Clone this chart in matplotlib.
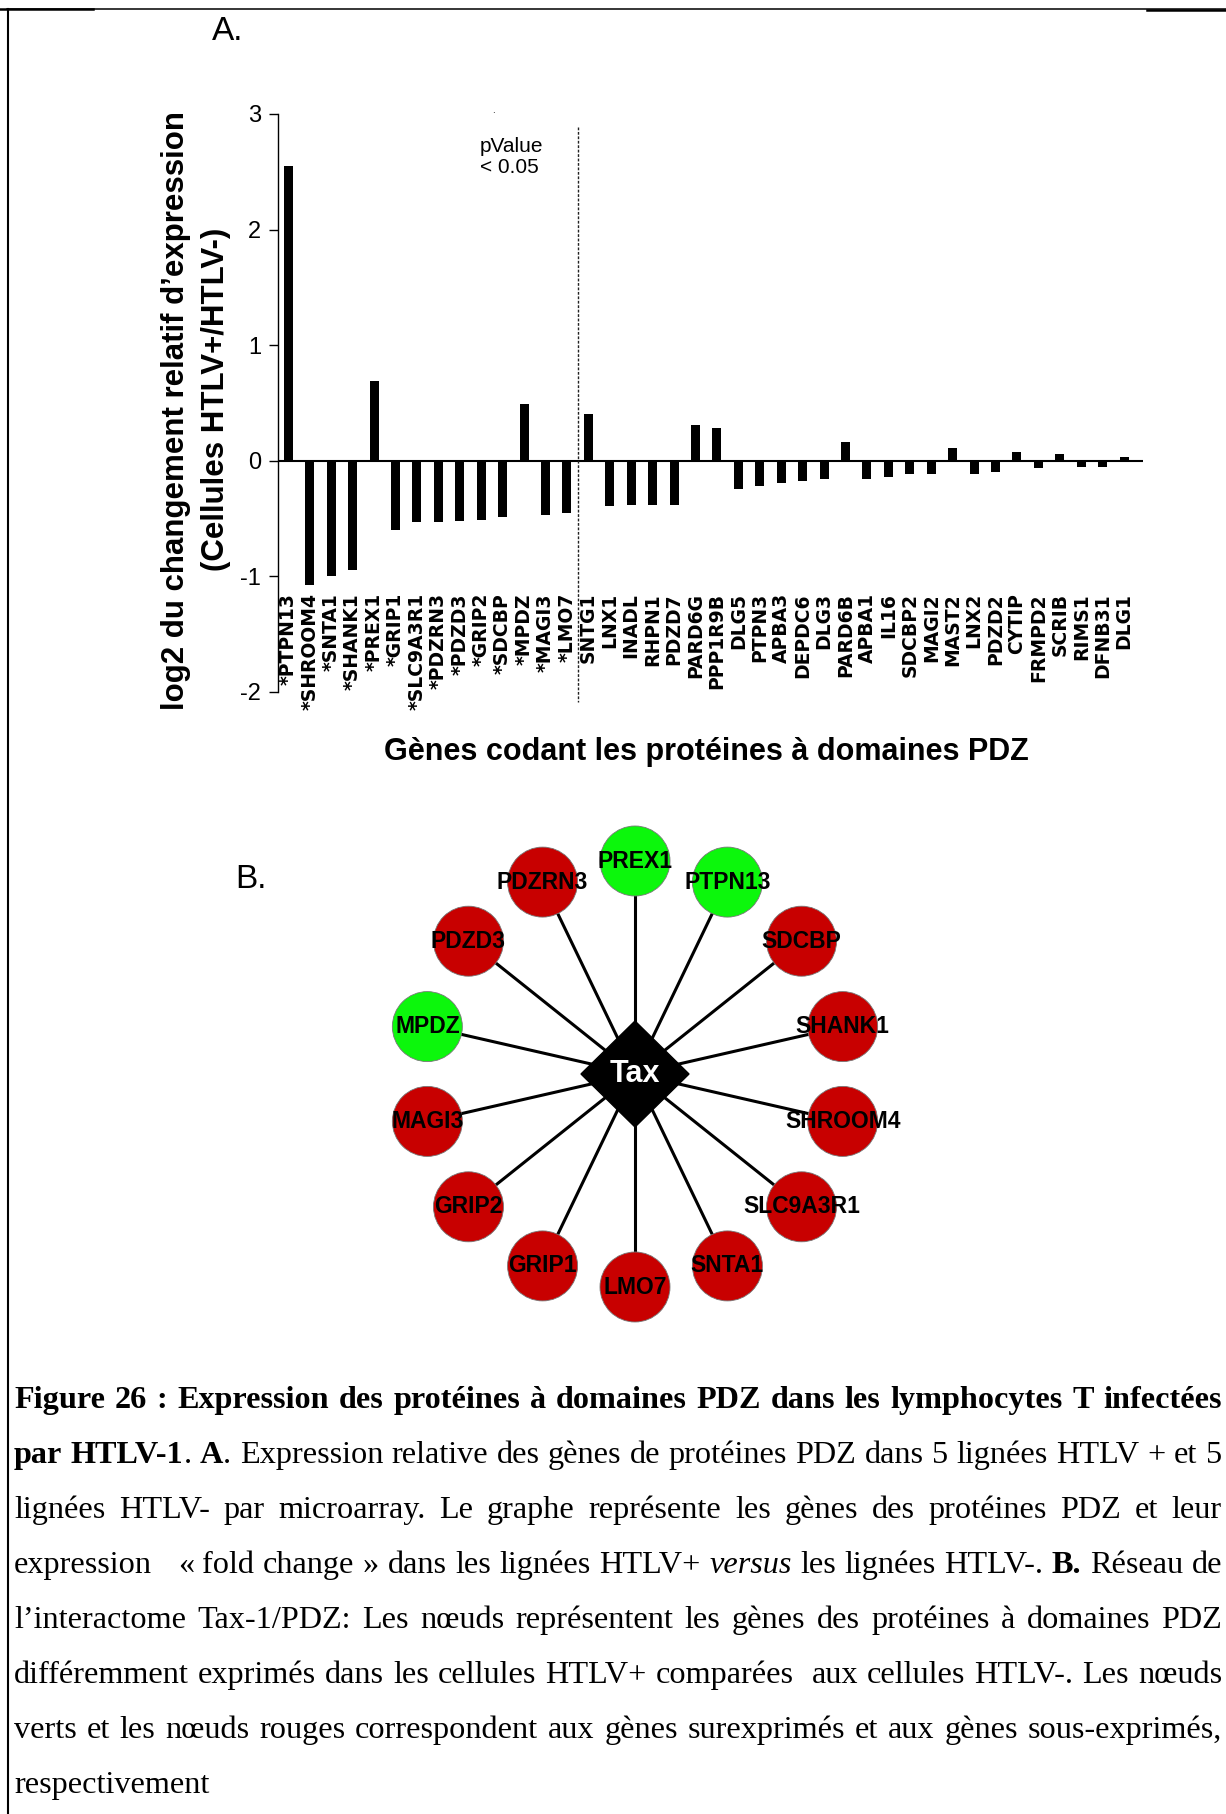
import numpy as np
import matplotlib
matplotlib.use("Agg")
import matplotlib.pyplot as plt
from matplotlib.patches import Circle, Polygon

# figure size in pixels (dpi 100)
W, H = 1226, 1814

# ---- data: panel A (log2 fold change HTLV+/HTLV-) ----
genes = ["*PTPN13", "*SHROOM4", "*SNTA1", "*SHANK1", "*PREX1", "*GRIP1",
         "*SLC9A3R1", "*PDZRN3", "*PDZD3", "*GRIP2", "*SDCBP", "*MPDZ",
         "*MAGI3", "*LMO7",
         "SNTG1", "LNX1", "INADL", "RHPN1", "PDZD7", "PARD6G", "PPP1R9B",
         "DLG5", "PTPN3", "APBA3", "DEPDC6", "DLG3", "PARD6B", "APBA1",
         "IL16", "SDCBP2", "MAGI2", "MAST2", "LNX2", "PDZD2", "CYTIP",
         "FRMPD2", "SCRIB", "RIMS1", "DFNB31", "DLG1"]
log2_fc = [2.55, -1.08, -1.0, -0.95, 0.69, -0.60,
           -0.535, -0.53, -0.525, -0.515, -0.485, 0.49,
           -0.47, -0.455,
           0.405, -0.395, -0.385, -0.385, -0.385, 0.31, 0.28,
           -0.245, -0.22, -0.195, -0.18, -0.16, 0.16, -0.155,
           -0.14, -0.12, -0.118, 0.112, -0.112, -0.098, 0.075,
           -0.06, 0.058, -0.058, -0.055, 0.03]
n_signif = 14   # genes with pValue < 0.05 (marked with *)
yticks = [-2, -1, 0, 1, 2, 3]

# ---- data: panel B (Tax-1 / PDZ interactome), clockwise from top ----
partners = ["PREX1", "PTPN13", "SDCBP", "SHANK1", "SHROOM4", "SLC9A3R1",
            "SNTA1", "LMO7", "GRIP1", "GRIP2", "MAGI3", "MPDZ", "PDZD3",
            "PDZRN3"]

NARROW = ["Liberation Sans Narrow", "Liberation Sans"]
SANS = ["Liberation Sans", "DejaVu Sans"]
SERIF = ["Liberation Serif", "DejaVu Serif"]

fig = plt.figure(figsize=(W / 100, H / 100), dpi=100)
fig.patch.set_facecolor("white")

# page axes in pixel coordinates (y pointing down)
page = fig.add_axes([0, 0, 1, 1])
page.set_xlim(0, W)
page.set_ylim(H, 0)
page.axis("off")

# frame of the text box
page.plot([7, W], [9, 9], color="black", lw=1.1)
page.plot([7.5, 7.5], [9, H], color="black", lw=1.5)
page.plot([0, 93], [8.5, 8.5], color="black", lw=1.8)
page.plot([1147, W], [9.5, 9.5], color="black", lw=1.8)

"""
A. BAR CHART
"""
x0_px, x1_px = 278, 1143
y_top, y_bot = 114, 691.7
ax = fig.add_axes([x0_px / W, 1 - y_bot / H, (x1_px - x0_px) / W, (y_bot - y_top) / H])
ax.set_facecolor("none")
x = np.arange(len(genes))
ax.bar(x, log2_fc, width=0.42, color="black")
ax.set_xlim(-0.48, 39.88)
ax.set_ylim(-2, 3)
ax.axhline(0, color="black", lw=1.5)
for s in ["top", "right", "bottom"]:
    ax.spines[s].set_visible(False)
ax.spines["left"].set_linewidth(1.0)
ax.set_xticks([])
ax.set_yticks(yticks)
ax.set_yticklabels([str(v) for v in yticks], fontsize=17, family=NARROW)
ax.tick_params(axis="y", length=6.5, width=1.0, pad=5.5)

for i, g in enumerate(genes):
    ax.text(i, -1.146, g, rotation=90, ha="center", va="top", fontsize=13.5,
            family="DejaVu Sans", weight="bold", clip_on=False)

# separation of significant genes
ax.plot([n_signif - 0.5, n_signif - 0.5], [2.89, -2.09], color="#222222",
        lw=1.0, ls=(0, (2, 1.2)), clip_on=False)
ax.text(8.95, 2.80, "pValue\n< 0.05", ha="left", va="top", fontsize=15,
        family=SANS, linespacing=1.15)
ax.text(9.55, 2.99, ".", ha="center", va="bottom", fontsize=7, family=SANS)

page.text(176, 410, "log2 du changement relatif d\u2019expression", rotation=90,
          ha="center", va="center", fontsize=22.5, weight="bold", family=NARROW)
page.text(216, 399, "(Cellules HTLV+/HTLV-)", rotation=90,
          ha="center", va="center", fontsize=22.5, weight="bold", family=NARROW)
page.text(706, 752, "G\u00e8nes codant les prot\u00e9ines \u00e0 domaines PDZ",
          ha="center", va="center", fontsize=22, weight="bold", family=NARROW)
page.text(228, 32, "A.", ha="center", va="center", fontsize=24, family=SANS)
page.text(251, 879, "B.", ha="center", va="center", fontsize=24, family=SANS)

"""
B. NETWORK
"""
fc = dict(zip([g.lstrip("*") for g in genes], log2_fc))
cx, cy, R, r_node = 635, 1074, 213, 35
angles = np.deg2rad(90 - np.arange(len(partners)) * 360 / len(partners))
px = cx + R * np.cos(angles)
py = cy - R * np.sin(angles)
for xi, yi in zip(px, py):
    page.plot([cx, xi], [cy, yi], color="black", lw=2.2, zorder=2)
for name, xi, yi in zip(partners, px, py):
    col = "#0cf70c" if fc[name] > 0 else "#c80000"
    page.add_patch(Circle((xi, yi), r_node, facecolor=col, edgecolor="#777777",
                          lw=0.6, zorder=3))
    page.text(xi, yi, name, ha="center", va="center", fontsize=16.5,
              weight="bold", family=SANS, color="black", zorder=4)
page.add_patch(Polygon([[cx - 54, cy], [cx, cy - 53], [cx + 54, cy], [cx, cy + 53]],
                       closed=True, facecolor="black", edgecolor="black", zorder=5))
page.text(cx, cy, "Tax", ha="center", va="center", fontsize=22, weight="bold",
          family=SANS, color="white", zorder=6)

"""
CAPTION (justified)
"""
B_, N_, I_ = ("bold", "normal"), ("normal", "normal"), ("normal", "italic")
caption = [
    ([("Figure 26 : Expression des prot\u00e9ines \u00e0 domaines PDZ dans les lymphocytes T infect\u00e9es", *B_)], True),
    ([("par HTLV-1", *B_), (".", *N_), (" ", *N_), ("A", *B_),
      (". Expression relative des g\u00e8nes de prot\u00e9ines PDZ dans 5 lign\u00e9es HTLV + et 5", *N_)], True),
    ([("lign\u00e9es HTLV- par microarray. Le graphe repr\u00e9sente les g\u00e8nes des prot\u00e9ines PDZ et leur", *N_)], True),
    ([("expression   \u00ab fold change \u00bb dans les lign\u00e9es HTLV+ ", *N_), ("versus", *I_),
      (" les lign\u00e9es HTLV-. ", *N_), ("B.", *B_), (" R\u00e9seau de", *N_)], True),
    ([("l\u2019interactome Tax-1/PDZ: Les n\u0153uds repr\u00e9sentent les g\u00e8nes des prot\u00e9ines \u00e0 domaines PDZ", *N_)], True),
    ([("diff\u00e9remment exprim\u00e9s dans les cellules HTLV+ compar\u00e9es  aux cellules HTLV-. Les n\u0153uds", *N_)], True),
    ([("verts et les n\u0153uds rouges correspondent aux g\u00e8nes surexprim\u00e9s et aux g\u00e8nes sous-exprim\u00e9s,", *N_)], True),
    ([("respectivement", *N_)], False),
]
CAP_X0, CAP_X1 = 14, 1222
CAP_Y0, CAP_DY = 1408, 55.05


def tokenize(runs):
    words = [[]]
    for txt, wt, st in runs:
        for j, p in enumerate(txt.split(" ")):
            if j > 0:
                words.append([])
            if p:
                words[-1].append((p, wt, st))
    return words


renderer = fig.canvas.get_renderer()


def measure(txt, wt, st, fs):
    t = page.text(0, 0, txt, fontsize=fs, family=SERIF, weight=wt, style=st)
    w = t.get_window_extent(renderer).width
    t.remove()
    return w


# font size: the tightest justified line fills the width with normal spaces
ref_fs = 22.0
space_w = measure("a a", "normal", "normal", ref_fs) - measure("aa", "normal", "normal", ref_fs)
ratios = []
for runs, justify in caption:
    if not justify:
        continue
    words = tokenize(runs)
    nat = sum(measure(*f, ref_fs) for w in words for f in w) + space_w * (len(words) - 1)
    ratios.append((CAP_X1 - CAP_X0) / nat)
CAP_FS = ref_fs * min(ratios) * 0.995
space_w *= CAP_FS / ref_fs

for k, (runs, justify) in enumerate(caption):
    y = CAP_Y0 + k * CAP_DY
    placed, total = [], 0.0
    for word in tokenize(runs):
        items = []
        for txt, wt, st in word:
            t = page.text(0, y, txt, fontsize=CAP_FS, family=SERIF, weight=wt,
                          style=st, ha="left", va="baseline")
            items.append((t, t.get_window_extent(renderer).width))
        w = sum(it[1] for it in items)
        placed.append((items, w))
        total += w
    gap = (CAP_X1 - CAP_X0 - total) / (len(placed) - 1) if justify else space_w
    xx = CAP_X0
    for items, w in placed:
        xf = xx
        for t, tw in items:
            t.set_x(xf)
            xf += tw
        xx += w + gap

fig.savefig("out.png", dpi=100, facecolor="white")
